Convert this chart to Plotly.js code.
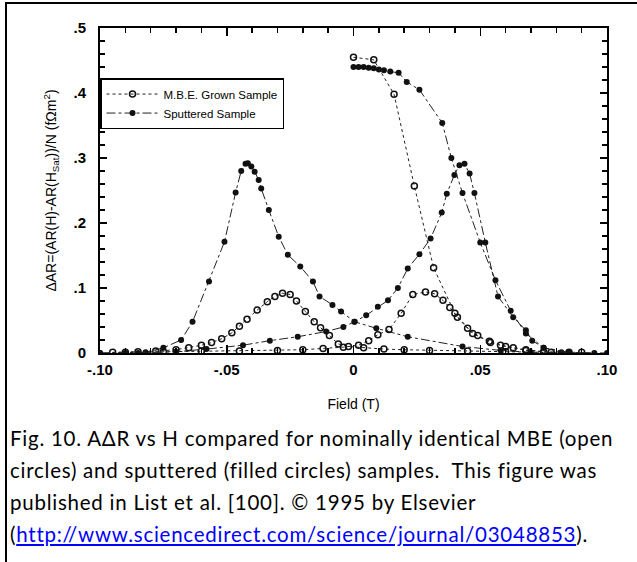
<!DOCTYPE html>
<html>
<head>
<meta charset="utf-8">
<script src="https://cdn.plot.ly/plotly-3.0.1.min.js"></script>
<style>
  html, body { margin:0; padding:0; background:#fff; width:637px; height:562px; overflow:hidden; }
  #chart { position:absolute; left:0; top:0; width:637px; height:420px; }
  .frame { position:absolute; background:#000; }
  #caption { position:absolute; left:10px; top:422px; font-family:Lato, "Open Sans", sans-serif; font-size:20.5px; letter-spacing:0.75px; line-height:32px; color:#000; white-space:nowrap; }
  #caption a { color:#0000ff; text-decoration:underline; }
</style>
</head>
<body>
<div id="chart"></div>
<div class="frame" style="left:5px; top:2px; width:632px; height:2px;"></div>
<div class="frame" style="left:5px; top:2px; width:2px; height:560px;"></div>
<div id="caption">Fig. 10. AΔR vs H compared for nominally identical MBE (open<br>circles) and sputtered (filled circles) samples.&nbsp; This figure was<br>published in List et al. [100]. © 1995 by Elsevier<br>(<a href="#">http://www.sciencedirect.com/science/journal/03048853</a>).</div>
<script>
// ---- Data (Field in T, ΔAR in fΩm²) ----
const mbeVirginX = [0, 0.008, 0.016, 0.024, 0.0316, 0.040, 0.047, 0.054, 0.060, 0.068, 0.078];
const mbeVirginY = [0.455, 0.451, 0.398, 0.257, 0.131, 0.061, 0.030, 0.016, 0.010, 0.004, 0.001];

const mbeNegX = [-0.095, -0.085, -0.078, -0.070, -0.065, -0.060, -0.056, -0.052, -0.048, -0.045, -0.042, -0.038, -0.034, -0.031, -0.028, -0.025, -0.0225, -0.019, -0.0155, -0.013, -0.0095, -0.006, -0.002, 0.004, 0.012, 0.020, 0.030, 0.045, 0.060, 0.075, 0.090];
const mbeNegY = [0.001, 0.002, 0.003, 0.005, 0.008, 0.012, 0.016, 0.022, 0.031, 0.041, 0.052, 0.066, 0.079, 0.087, 0.092, 0.090, 0.080, 0.064, 0.048, 0.039, 0.027, 0.014, 0.010, 0.008, 0.006, 0.005, 0.004, 0.003, 0.002, 0.001, 0.001];

const mbePosX = [-0.090, -0.075, -0.060, -0.045, -0.030, -0.020, -0.012, -0.004, 0.002, 0.006, 0.0096, 0.014, 0.0188, 0.0234, 0.0284, 0.032, 0.0353, 0.038, 0.041, 0.045, 0.049, 0.0536, 0.058, 0.063, 0.068, 0.075, 0.085];
const mbePosY = [0.001, 0.002, 0.003, 0.003, 0.004, 0.005, 0.007, 0.009, 0.012, 0.019, 0.028, 0.036, 0.061, 0.090, 0.094, 0.091, 0.081, 0.070, 0.055, 0.038, 0.027, 0.018, 0.012, 0.008, 0.005, 0.002, 0.001];

const spVirginX = [0, 0.002, 0.004, 0.006, 0.008, 0.010, 0.012, 0.0145, 0.0178, 0.021, 0.026, 0.035, 0.0386, 0.043, 0.050, 0.056, 0.062, 0.068, 0.075, 0.085];
const spVirginY = [0.440, 0.440, 0.440, 0.439, 0.438, 0.436, 0.435, 0.433, 0.431, 0.417, 0.405, 0.354, 0.300, 0.246, 0.170, 0.112, 0.065, 0.030, 0.008, 0.001];

const spNegX = [-0.100, -0.090, -0.082, -0.075, -0.068, -0.0635, -0.057, -0.0509, -0.0465, -0.0443, -0.0426, -0.0417, -0.0403, -0.039, -0.0374, -0.0364, -0.0334, -0.0295, -0.0259, -0.021, -0.016, -0.0134, -0.0083, -0.0049, 0.0004, 0.009, 0.0214, 0.043, 0.058, 0.070, 0.085, 0.100];
const spNegY = [0, 0, 0.001, 0.008, 0.020, 0.048, 0.110, 0.171, 0.247, 0.280, 0.291, 0.292, 0.287, 0.279, 0.266, 0.253, 0.220, 0.179, 0.151, 0.133, 0.110, 0.087, 0.074, 0.064, 0.048, 0.038, 0.025, 0.010, 0.004, 0.001, 0, 0];

const spPosX = [-0.100, -0.085, -0.070, -0.058, -0.0436, -0.033, -0.022, -0.0108, -0.004, 0.0004, 0.005, 0.0096, 0.0136, 0.0175, 0.0214, 0.026, 0.0304, 0.0348, 0.0368, 0.0398, 0.0418, 0.0438, 0.0458, 0.0477, 0.052, 0.057, 0.063, 0.068, 0.0705, 0.075, 0.082, 0.095];
const spPosY = [0, 0, 0.002, 0.006, 0.012, 0.019, 0.025, 0.033, 0.040, 0.048, 0.058, 0.071, 0.081, 0.100, 0.130, 0.152, 0.176, 0.216, 0.245, 0.274, 0.289, 0.291, 0.276, 0.246, 0.170, 0.087, 0.055, 0.035, 0.019, 0.008, 0.001, 0];

const xTickVals = [-0.10, -0.05, 0, 0.05, 0.10];
const xTickText = ["-.10", "-.05", "0", ".05", ".10"];
const yTickVals = [0, 0.1, 0.2, 0.3, 0.4, 0.5];
const yTickText = ["0", ".1", ".2", ".3", ".4", ".5"];

const legendNames = ["M.B.E. Grown Sample", "Sputtered Sample"];

function mbeTrace(x, y, name, show) {
  return { x: x, y: y, type: 'scatter', mode: 'lines+markers', name: name, showlegend: show,
    line: { color: '#222', width: 1, dash: 'dot' },
    marker: { symbol: 'circle-open', size: 6, color: '#111', line: { width: 1.5, color: '#111' } } };
}
function spTrace(x, y, name, show) {
  return { x: x, y: y, type: 'scatter', mode: 'lines+markers', name: name, showlegend: show,
    line: { color: '#222', width: 1, dash: 'dashdot' },
    marker: { symbol: 'circle', size: 6, color: '#111' } };
}

const data = [
  mbeTrace(mbeNegX, mbeNegY, legendNames[0], true),
  spTrace(spNegX, spNegY, legendNames[1], true),
  mbeTrace(mbePosX, mbePosY, legendNames[0], false),
  mbeTrace(mbeVirginX, mbeVirginY, legendNames[0], false),
  spTrace(spPosX, spPosY, legendNames[1], false),
  spTrace(spVirginX, spVirginY, legendNames[1], false)
];

const axisFont = { family: 'Liberation Sans, Arial, sans-serif', size: 15, color: '#000', weight: 'bold' };

const layout = {
  width: 637, height: 420,
  margin: { l: 100, r: 30, t: 28, b: 67 },
  paper_bgcolor: '#fff', plot_bgcolor: '#fff',
  showlegend: true,
  legend: { x: 0, y: 0.846, xanchor: 'left', yanchor: 'top', bgcolor: '#fff', bordercolor: '#000', borderwidth: 1.5,
    font: { family: 'Liberation Sans, Arial, sans-serif', size: 11.5, color: '#000' }, tracegroupgap: 0, itemwidth: 52 },
  xaxis: {
    range: [-0.1, 0.1], tickmode: 'array', tickvals: xTickVals, ticktext: xTickText,
    ticks: 'inside', ticklen: 8, tickwidth: 1.5, tickcolor: '#000', ticklabelstandoff: 2,
    showline: true, linewidth: 2, linecolor: '#000', mirror: 'allticks', showgrid: false, zeroline: false,
    minor: { tickmode: 'linear', tick0: 0, dtick: 0.01, ticks: 'inside', ticklen: 5, tickwidth: 1.5, tickcolor: '#000', showgrid: false },
    tickfont: axisFont,
    title: { text: 'Field (T)', font: { family: 'Liberation Sans, Arial, sans-serif', size: 14, color: '#000' }, standoff: 22 }
  },
  yaxis: {
    range: [0, 0.5], tickmode: 'array', tickvals: yTickVals, ticktext: yTickText,
    ticks: 'inside', ticklen: 7, tickwidth: 1.5, tickcolor: '#000', ticklabelstandoff: 9,
    showline: true, linewidth: 2, linecolor: '#000', mirror: 'allticks', showgrid: false, zeroline: false,
    minor: { tickmode: 'linear', tick0: 0, dtick: 0.02, ticks: 'inside', ticklen: 5, tickwidth: 1.5, tickcolor: '#000', showgrid: false },
    tickfont: axisFont,
    title: { text: 'ΔAR=(AR(H)-AR(H<sub>Sat</sub>))/N (fΩm<sup>2</sup>)', font: { family: 'Liberation Sans, Arial, sans-serif', size: 14, color: '#000' }, standoff: 14 }
  }
};

Plotly.newPlot('chart', data, layout, { staticPlot: true, displayModeBar: false });
</script>
</body>
</html>
